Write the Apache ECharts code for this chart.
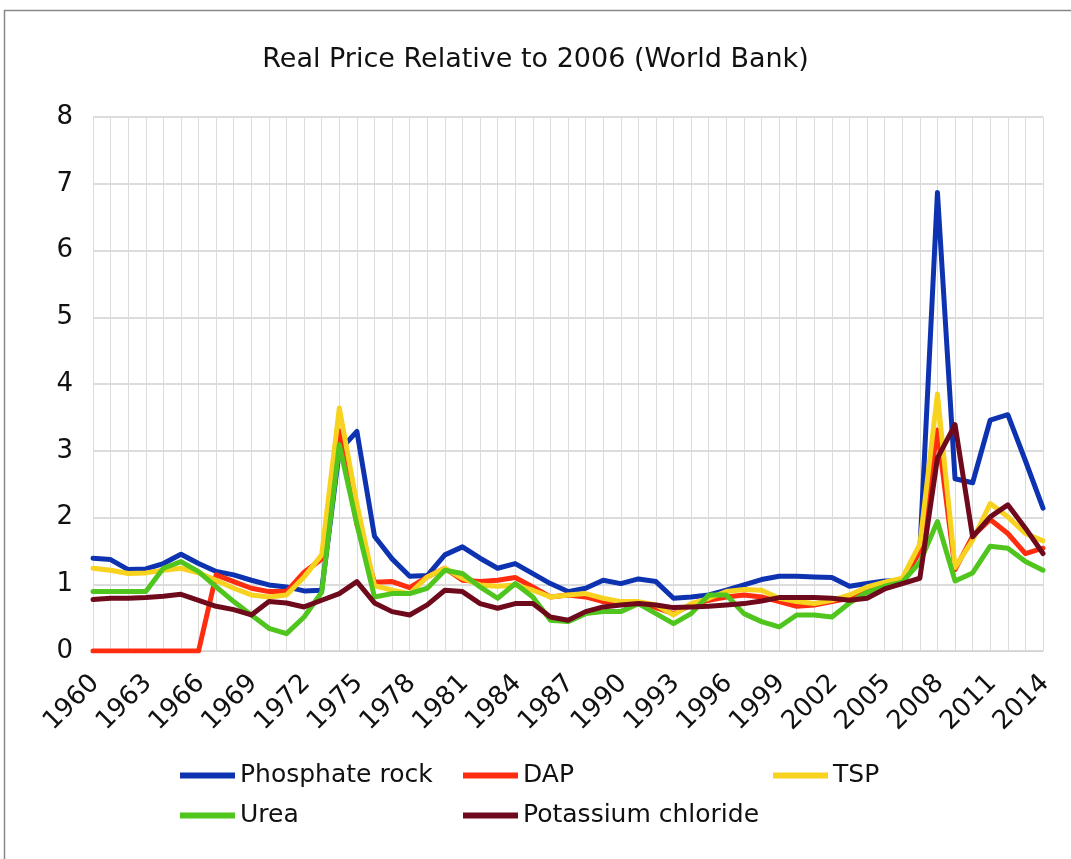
<!DOCTYPE html>
<html>
<head>
<meta charset="utf-8">
<script src="https://cdn.jsdelivr.net/npm/echarts@6/dist/echarts.min.js"></script>
<style>
  html, body { margin: 0; padding: 0; background: #fff; }
  #chart { width: 1071px; height: 859px; }
</style>
</head>
<body>
<div id="chart"></div>
<script>
const years = [];
for (let y = 1960; y <= 2014; y++) years.push(String(y));

const phosphateRock = [1.39,1.37,1.22,1.23,1.31,1.45,1.31,1.19,1.14,1.06,0.99,0.96,0.90,0.91,
  3.00,3.29,1.72,1.38,1.12,1.13,1.44,1.56,1.39,1.24,1.31,1.16,1.01,0.89,0.94,1.06,
  1.01,1.08,1.04,0.79,0.81,0.84,0.91,0.99,1.07,1.12,1.12,1.11,1.10,0.97,1.01,1.05,
  1.05,1.50,6.87,2.58,2.52,3.46,3.54,2.85,2.14];

const dap = [0,0,0,0,0,0,0,1.14,1.04,0.94,0.89,0.89,1.18,1.38,
  3.30,1.90,1.03,1.04,0.95,1.11,1.24,1.06,1.04,1.06,1.10,0.96,0.81,0.84,0.81,0.74,
  0.71,0.71,0.65,0.56,0.69,0.76,0.81,0.84,0.81,0.74,0.67,0.69,0.74,0.79,0.91,1.02,
  1.05,1.50,3.31,1.22,1.72,1.97,1.76,1.46,1.54];

const tsp = [1.24,1.21,1.16,1.17,1.21,1.24,1.17,1.06,0.94,0.84,0.81,0.84,1.11,1.44,
  3.64,2.20,0.98,0.91,0.86,1.11,1.24,1.09,0.99,0.97,0.99,0.91,0.81,0.84,0.86,0.79,
  0.74,0.74,0.69,0.54,0.71,0.79,0.89,0.92,0.91,0.79,0.74,0.71,0.76,0.84,0.96,1.03,
  1.09,1.60,3.85,1.25,1.66,2.21,2.01,1.76,1.65];

const urea = [0.89,0.89,0.89,0.89,1.24,1.34,1.19,0.96,0.74,0.54,0.34,0.26,0.51,0.88,
  3.09,1.90,0.81,0.86,0.86,0.94,1.21,1.16,0.96,0.79,1.01,0.81,0.46,0.44,0.56,0.59,
  0.59,0.71,0.56,0.41,0.56,0.84,0.84,0.56,0.44,0.36,0.54,0.54,0.51,0.72,0.88,0.97,
  1.03,1.33,1.94,1.05,1.17,1.57,1.54,1.34,1.21];

const potassiumChloride = [0.77,0.79,0.79,0.80,0.82,0.85,0.76,0.67,0.62,0.54,0.74,0.72,0.66,0.76,
  0.86,1.04,0.72,0.59,0.54,0.69,0.91,0.89,0.71,0.64,0.71,0.71,0.51,0.46,0.59,0.66,
  0.69,0.71,0.69,0.65,0.66,0.67,0.69,0.71,0.75,0.80,0.80,0.80,0.79,0.76,0.79,0.93,
  1.01,1.09,2.89,3.39,1.71,2.01,2.19,1.84,1.46];

const seriesNames = ['Phosphate rock', 'DAP', 'TSP', 'Urea', 'Potassium chloride'];
const seriesData = [phosphateRock, dap, tsp, urea, potassiumChloride];
const colors = ['#0d33b0', '#ff2d10', '#f7d21e', '#4fc51e', '#6e0a1c'];

const FONT = 'DejaVu Sans';
const chart = echarts.init(document.getElementById('chart'), null, { renderer: 'canvas' });

const legendTextStyle = { fontFamily: FONT, fontSize: 25, color: '#111' };
function legendAt(name, left, top) {
  return {
    data: [name], left: left, top: top, orient: 'horizontal',
    icon: 'rect', itemWidth: 55, itemHeight: 6, itemGap: 0,
    textStyle: legendTextStyle, selectedMode: false, padding: 0
  };
}

chart.setOption({
  animation: false,
  backgroundColor: '#fff',
  color: colors,
  title: {
    text: 'Real Price Relative to 2006 (World Bank)',
    left: 'center', top: 41,
    textStyle: { fontFamily: FONT, fontSize: 27, fontWeight: 'normal', color: '#111' }
  },
  graphic: [{
    type: 'rect', silent: true,
    shape: { x: 4.5, y: 10.5, width: 1080, height: 860 },
    style: { fill: 'none', stroke: '#888', lineWidth: 1.5 }
  }],
  legend: [
    legendAt('Phosphate rock', 180, 763),
    legendAt('DAP', 463, 763),
    legendAt('TSP', 773, 763),
    legendAt('Urea', 180, 803),
    legendAt('Potassium chloride', 463, 803)
  ],
  grid: { left: 93, right: 28, top: 117, bottom: 208, containLabel: false, outerBoundsMode: 'none' },
  xAxis: {
    type: 'category',
    data: years,
    boundaryGap: false,
    axisLine: { show: true, lineStyle: { color: '#d0d0d0', width: 1 } },
    axisTick: { show: false },
    axisLabel: {
      interval: 2, rotate: 45, margin: 12,
      align: 'right', verticalAlign: 'top',
      padding: [0, 10, 0, 0],
      fontFamily: FONT, fontSize: 26, color: '#111'
    },
    splitLine: { show: true, interval: 0, lineStyle: { color: '#dcdcdc', width: 1 } }
  },
  yAxis: {
    type: 'value', min: 0, max: 8, interval: 1,
    axisLine: { show: false },
    axisTick: { show: false },
    axisLabel: { fontFamily: FONT, fontSize: 26, color: '#111', margin: 20 },
    splitLine: { show: true, lineStyle: { color: '#d0d0d0', width: 1.5 } }
  },
  series: seriesNames.map((name, i) => ({
    name: name,
    type: 'line',
    data: seriesData[i],
    showSymbol: false,
    symbol: 'none',
    smooth: false,
    lineStyle: { width: 5, color: colors[i], join: 'round', cap: 'round' },
    itemStyle: { color: colors[i] }
  }))
});
</script>
</body>
</html>
